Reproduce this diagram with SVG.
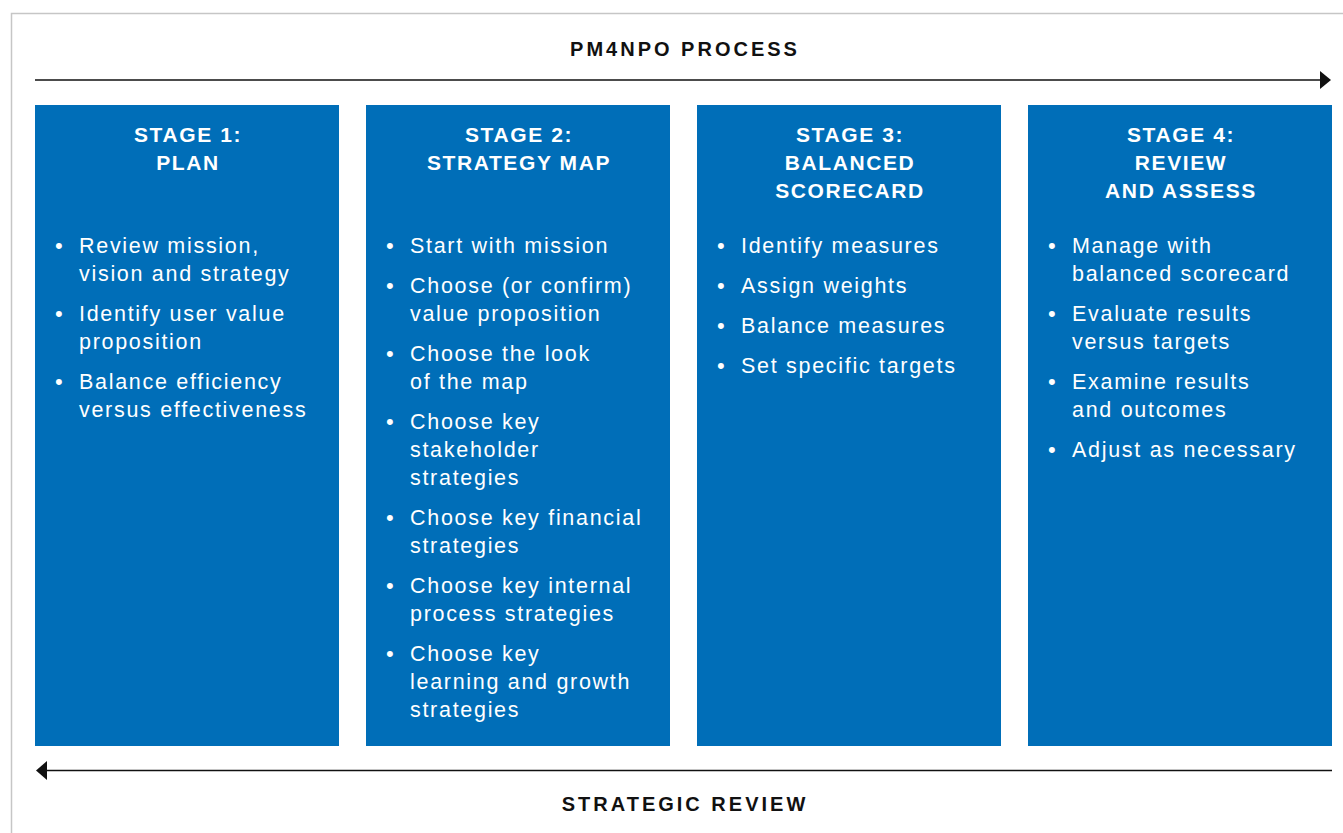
<svg xmlns="http://www.w3.org/2000/svg" width="1343" height="833" viewBox="0 0 1343 833">
<defs>
<style>
.frame{fill:none;stroke:#c6c6c6;stroke-width:1.5}
.box{fill:#006eb8}
.title{font-family:"Liberation Sans",Arial,sans-serif;font-weight:bold;font-size:20px;fill:#111;letter-spacing:3px;text-anchor:middle}
.head{font-family:"Liberation Sans",Arial,sans-serif;font-weight:bold;font-size:21px;fill:#fff;letter-spacing:1.6px;text-anchor:middle}
.item{font-family:"Liberation Sans",Arial,sans-serif;font-size:21.5px;fill:#fff;letter-spacing:1.7px}
.bul{font-family:"Liberation Sans",Arial,sans-serif;font-size:22px;fill:#fff}
.conn{stroke:#111;stroke-width:1.6;fill:none}
.head-arrow{fill:#111}
</style>
</defs>
<rect class="frame" x="11.5" y="13.5" width="1340" height="830"/>
<text class="title" x="685" y="56">PM4NPO PROCESS</text>
<text class="title" x="685" y="811">STRATEGIC REVIEW</text>
<g id="connectors">
<line class="conn" x1="35" y1="80" x2="1321" y2="80"/>
<polygon class="head-arrow" points="1320,71 1331,80 1320,89"/>
<line class="conn" x1="46" y1="770.5" x2="1332" y2="770.5"/>
<polygon class="head-arrow" points="47,761 36,770.5 47,780"/>
</g>
<g id="stage1">
<rect class="box" x="35" y="105" width="304" height="641"/>
<text class="head" x="188" y="142">STAGE 1:</text>
<text class="head" x="188" y="170">PLAN</text>
<text class="bul" x="55" y="253">•</text>
<text class="item" x="79" y="253">Review mission,</text>
<text class="item" x="79" y="281">vision and strategy</text>
<text class="bul" x="55" y="321">•</text>
<text class="item" x="79" y="321">Identify user value</text>
<text class="item" x="79" y="349">proposition</text>
<text class="bul" x="55" y="389">•</text>
<text class="item" x="79" y="389">Balance efficiency</text>
<text class="item" x="79" y="417">versus effectiveness</text>
</g>
<g id="stage2">
<rect class="box" x="366" y="105" width="304" height="641"/>
<text class="head" x="519" y="142">STAGE 2:</text>
<text class="head" x="519" y="170">STRATEGY MAP</text>
<text class="bul" x="386" y="253">•</text>
<text class="item" x="410" y="253">Start with mission</text>
<text class="bul" x="386" y="293">•</text>
<text class="item" x="410" y="293">Choose (or confirm)</text>
<text class="item" x="410" y="321">value proposition</text>
<text class="bul" x="386" y="361">•</text>
<text class="item" x="410" y="361">Choose the look</text>
<text class="item" x="410" y="389">of the map</text>
<text class="bul" x="386" y="429">•</text>
<text class="item" x="410" y="429">Choose key</text>
<text class="item" x="410" y="457">stakeholder</text>
<text class="item" x="410" y="485">strategies</text>
<text class="bul" x="386" y="525">•</text>
<text class="item" x="410" y="525">Choose key financial</text>
<text class="item" x="410" y="553">strategies</text>
<text class="bul" x="386" y="593">•</text>
<text class="item" x="410" y="593">Choose key internal</text>
<text class="item" x="410" y="621">process strategies</text>
<text class="bul" x="386" y="661">•</text>
<text class="item" x="410" y="661">Choose key</text>
<text class="item" x="410" y="689">learning and growth</text>
<text class="item" x="410" y="717">strategies</text>
</g>
<g id="stage3">
<rect class="box" x="697" y="105" width="304" height="641"/>
<text class="head" x="850" y="142">STAGE 3:</text>
<text class="head" x="850" y="170">BALANCED</text>
<text class="head" x="850" y="198">SCORECARD</text>
<text class="bul" x="717" y="253">•</text>
<text class="item" x="741" y="253">Identify measures</text>
<text class="bul" x="717" y="293">•</text>
<text class="item" x="741" y="293">Assign weights</text>
<text class="bul" x="717" y="333">•</text>
<text class="item" x="741" y="333">Balance measures</text>
<text class="bul" x="717" y="373">•</text>
<text class="item" x="741" y="373">Set specific targets</text>
</g>
<g id="stage4">
<rect class="box" x="1028" y="105" width="304" height="641"/>
<text class="head" x="1181" y="142">STAGE 4:</text>
<text class="head" x="1181" y="170">REVIEW</text>
<text class="head" x="1181" y="198">AND ASSESS</text>
<text class="bul" x="1048" y="253">•</text>
<text class="item" x="1072" y="253">Manage with</text>
<text class="item" x="1072" y="281">balanced scorecard</text>
<text class="bul" x="1048" y="321">•</text>
<text class="item" x="1072" y="321">Evaluate results</text>
<text class="item" x="1072" y="349">versus targets</text>
<text class="bul" x="1048" y="389">•</text>
<text class="item" x="1072" y="389">Examine results</text>
<text class="item" x="1072" y="417">and outcomes</text>
<text class="bul" x="1048" y="457">•</text>
<text class="item" x="1072" y="457">Adjust as necessary</text>
</g>
</svg>
